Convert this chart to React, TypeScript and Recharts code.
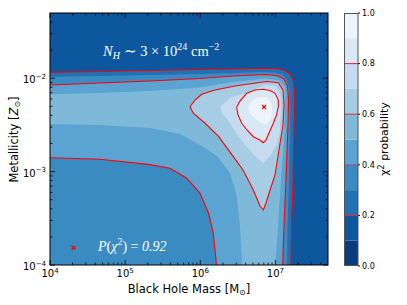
import React from "react";
import {
  ScatterChart,
  Scatter,
  XAxis,
  YAxis,
  CartesianGrid,
  BarChart,
  Bar,
  ReferenceLine,
} from "recharts";

// all positions are log10(M / Msun) and log10(Z / Zsun)
const xDomain = [4, Math.log10(5e7)];
const yDomain = [-4, Math.log10(5e-2)];
const xMajor = [4, 5, 6, 7];
const yMajor = [-4, -3, -2];

// filled contour levels of the chi^2 probability and their colours (Blues_r)
const levels = [0, 0.1, 0.2, 0.3, 0.4, 0.5, 0.6, 0.7, 0.8, 0.9, 1.0];
const bandColors = [
  "#083d7f", "#0d579f", "#2171b5", "#3b8bc3", "#5ba3d0",
  "#7fb9da", "#a6cde4", "#c6dbef", "#d9e8f5", "#edf5fc",
];
const lineLevels = [0.2, 0.4, 0.6, 0.8];
const cbLineColors = ["#e8242c", "#a8476a", "#e8242c", "#e8242c"];
const cbTicks = [0, 0.2, 0.4, 0.6, 0.8, 1.0];

// contour paths [log M, log Z]
const c02 = [
  [4.0, -1.936], [4.665, -1.928], [5.331, -1.917], [5.996, -1.906], [6.435, -1.901],
  [6.794, -1.893], [7.021, -1.895], [7.127, -1.917], [7.194, -1.954], [7.234, -2.019],
  [7.25, -2.126], [7.25, -2.34], [7.243, -2.661], [7.234, -3.09], [7.214, -3.572], [7.207, -4.0],
];
const c03 = [
  [4.0, -1.983], [4.665, -1.976], [5.331, -1.965], [5.996, -1.954], [6.435, -1.944],
  [6.821, -1.933], [7.007, -1.938], [7.1, -1.965], [7.154, -2.019], [7.185, -2.126],
  [7.194, -2.501], [7.18, -3.09], [7.16, -3.572], [7.154, -4.0],
];
const c04a = [
  [4.0, -2.072], [4.665, -2.051], [5.331, -2.029], [5.996, -2.003], [6.435, -1.976],
  [6.888, -1.96], [7.034, -1.976], [7.114, -2.008], [7.16, -2.083], [7.174, -2.233],
  [7.167, -2.501], [7.14, -3.09], [7.114, -3.572], [7.096, -4.0],
];
const c04b = [
  [4.0, -2.851], [4.665, -2.868], [5.331, -2.925], [5.597, -2.964], [5.819, -3.071],
  [5.996, -3.232], [6.11, -3.446], [6.173, -3.66], [6.215, -4.0],
];
const c05a = [
  [4.0, -2.172], [4.665, -2.158], [5.331, -2.136], [5.996, -2.099], [6.435, -2.04],
  [6.861, -2.003], [7.047, -2.024], [7.127, -2.094], [7.134, -2.233], [7.114, -2.661],
  [7.074, -3.09], [7.034, -3.572], [7.0, -4.0],
];
const c05b = [
  [4.0, -2.49], [4.665, -2.501], [5.331, -2.533], [5.73, -2.597], [5.996, -2.715],
  [6.222, -2.833], [6.395, -3.015], [6.488, -3.272], [6.528, -3.593], [6.555, -4.0],
];
const c06 = [
  [5.863, -2.305], [5.929, -2.233], [6.019, -2.172], [6.196, -2.126], [6.462, -2.083],
  [6.884, -2.035], [7.038, -2.048], [7.1, -2.126], [7.114, -2.286], [7.1, -2.501],
  [7.047, -2.768], [6.994, -3.036], [6.928, -3.197], [6.874, -3.336], [6.838, -3.411],
  [6.794, -3.368], [6.705, -3.197], [6.568, -2.983], [6.439, -2.84], [6.24, -2.619],
  [6.063, -2.482], [5.907, -2.375],
];
const c07 = [
  [6.262, -2.305], [6.395, -2.211], [6.661, -2.144], [6.861, -2.072], [7.007, -2.083],
  [7.067, -2.179], [7.074, -2.34], [7.054, -2.608], [7.017, -2.715], [6.928, -2.833],
  [6.838, -2.911], [6.728, -2.833], [6.617, -2.733], [6.502, -2.618], [6.395, -2.482],
  [6.289, -2.372],
];
const c08 = [
  [6.484, -2.311], [6.528, -2.244], [6.617, -2.161], [6.728, -2.126], [6.838, -2.118],
  [6.928, -2.131], [6.994, -2.161], [7.038, -2.233], [7.038, -2.305], [7.014, -2.393],
  [6.971, -2.482], [6.914, -2.586], [6.874, -2.661], [6.838, -2.69], [6.794, -2.661],
  [6.705, -2.626], [6.621, -2.554], [6.551, -2.482], [6.502, -2.393],
];
const c09 = [
  [6.639, -2.305], [6.688, -2.244], [6.754, -2.206], [6.884, -2.197], [6.95, -2.268],
  [6.95, -2.412], [6.901, -2.479], [6.861, -2.501], [6.75, -2.447], [6.661, -2.375],
];

const bestFit = [[6.848, -2.308]];
const legendMark = [[4.313, -3.815]];

const FONT = "DejaVu Sans";
const RED = "#ff0000";

const pts = (arr: number[][]) => arr.map(([x, y]) => ({ x, y }));
const closed = (arr: number[][]) => [...arr, arr[0]];

const fills = [
  { level: 0.2, path: [...c02, [xDomain[0], yDomain[0]]] },
  { level: 0.3, path: [...c03, [xDomain[0], yDomain[0]]] },
  { level: 0.4, path: [...c04a, ...[...c04b].reverse()] },
  { level: 0.5, path: [...c05a, ...[...c05b].reverse()] },
  { level: 0.6, path: c06 },
  { level: 0.7, path: c07 },
  { level: 0.8, path: c08 },
  { level: 0.9, path: c09 },
];
const redLines = [c02, c04a, c04b, closed(c06), closed(c08)];

const minorTicks = (lo: number, hi: number) => {
  const out: number[] = [];
  for (let d = Math.floor(lo); d < hi; d++) {
    for (let k = 2; k <= 9; k++) {
      const v = d + Math.log10(k);
      if (v > lo && v < hi - 0.002) out.push(v);
    }
  }
  return out;
};
const xTicks = [...xMajor, ...minorTicks(xDomain[0], xDomain[1])];
const yTicks = [...yMajor, ...minorTicks(yDomain[0], yDomain[1])];

const isMajor = (v: number) => Math.abs(v - Math.round(v)) < 1e-6;
const expText = (v: number) => String(Math.round(v)).replace("-", "\u2212");

const makeTick = (side: "bottom" | "top" | "left" | "right") => (props: any) => {
  const { x, y, payload } = props;
  const v = payload.value;
  const major = isMajor(v);
  const len = major ? 5 : 2.5;
  let line;
  if (side === "bottom") line = <line x1={x} x2={x} y1={y} y2={y - len} />;
  else if (side === "top") line = <line x1={x} x2={x} y1={y} y2={y + len} />;
  else if (side === "left") line = <line x1={x} x2={x + len} y1={y} y2={y} />;
  else line = <line x1={x} x2={x - len} y1={y} y2={y} />;
  return (
    <g>
      <g stroke="#000" strokeWidth={0.8}>{line}</g>
      {major && side === "bottom" && (
        <text x={x} y={y + 12} textAnchor="middle" fontSize={10} fontFamily={FONT} fill="#000">
          10<tspan dy={-4.5} fontSize={7}>{expText(v)}</tspan>
        </text>
      )}
      {major && side === "left" && (
        <text x={x - 4} y={y + 5} textAnchor="end" fontSize={10} fontFamily={FONT} fill="#000">
          10<tspan dy={-4.5} fontSize={7}>{expText(v)}</tspan>
        </text>
      )}
    </g>
  );
};

const NoShape = () => <g />;
const Cross = (props: any) => {
  const { cx, cy } = props;
  return (
    <g stroke={RED} strokeWidth={1.2}>
      <line x1={cx - 2} y1={cy - 2} x2={cx + 2} y2={cy + 2} />
      <line x1={cx - 2} y1={cy + 2} x2={cx + 2} y2={cy - 2} />
    </g>
  );
};

const cbRow: Record<string, number | string> = { name: "p" };
levels.slice(1).forEach((v, i) => {
  cbRow[`b${i}`] = v - levels[i];
});

export default function App() {
  return (
    <div style={{ position: "relative", width: 407, height: 305, background: "#fff", fontFamily: FONT }}>
      <style>{"body{margin:0}"}</style>
      <ScatterChart width={407} height={305} margin={{ top: 12, right: 78, bottom: 39, left: 49 }}>
        <CartesianGrid fill={bandColors[1]} stroke="none" />
        <XAxis
          dataKey="x" type="number" domain={xDomain} allowDataOverflow ticks={xTicks} interval={0}
          height={1} tickSize={0} tickMargin={0} tickLine={false} axisLine={false}
          tick={makeTick("bottom")}
        />
        <XAxis
          xAxisId="top" orientation="top" dataKey="x" type="number" domain={xDomain} allowDataOverflow
          ticks={xTicks} interval={0} height={1} tickSize={0} tickMargin={0} tickLine={false}
          axisLine={false} tick={makeTick("top")}
        />
        <YAxis
          dataKey="y" type="number" domain={yDomain} allowDataOverflow ticks={yTicks} interval={0}
          width={1} tickSize={0} tickMargin={0} tickLine={false} axisLine={false}
          tick={makeTick("left")}
        />
        <YAxis
          yAxisId="right" orientation="right" dataKey="y" type="number" domain={yDomain} allowDataOverflow
          ticks={yTicks} interval={0} width={1} tickSize={0} tickMargin={0} tickLine={false}
          axisLine={false} tick={makeTick("right")}
        />
        {fills.map((f) => (
          <Scatter
            key={`fill-${f.level}`}
            data={pts(f.path)}
            shape={NoShape}
            line={{ fill: bandColors[Math.round(f.level * 10)], stroke: "none" }}
            lineType="joint"
            lineJointType="linear"
            isAnimationActive={false}
          />
        ))}
        {redLines.map((l, i) => (
          <Scatter
            key={`line-${i}`}
            data={pts(l)}
            shape={NoShape}
            line={{ stroke: RED, strokeWidth: 1.1, fill: "none" }}
            lineType="joint"
            lineJointType="linear"
            isAnimationActive={false}
          />
        ))}
        <Scatter data={pts(bestFit)} shape={Cross} isAnimationActive={false} />
        <Scatter data={pts(legendMark)} shape={Cross} isAnimationActive={false} />
      </ScatterChart>

      <div style={{ position: "absolute", left: 344, top: 0 }}>
        <BarChart
          width={63} height={305} data={[cbRow]} barCategoryGap={0} barGap={0}
          margin={{ top: 13, right: 48, bottom: 39, left: 0 }}
        >
          <XAxis dataKey="name" hide />
          <YAxis
            orientation="right" type="number" domain={[0, 1]} ticks={cbTicks} interval={0} width={1}
            tickSize={2} tickMargin={2} axisLine={false} tickLine={{ stroke: "#000" }}
            tickFormatter={(v: number) => v.toFixed(1)}
            tick={{ fontSize: 8, fill: "#000", fontFamily: FONT }}
          />
          {bandColors.map((c, i) => (
            <Bar key={`b${i}`} dataKey={`b${i}`} stackId="cb" fill={c} isAnimationActive={false} />
          ))}
          {lineLevels.map((v, i) => (
            <ReferenceLine key={v} y={v} stroke={cbLineColors[i]} strokeWidth={1} />
          ))}
        </BarChart>
      </div>

      <svg
        width={407} height={305}
        style={{ position: "absolute", left: 0, top: 0, pointerEvents: "none" }}
        fontFamily={FONT}
      >
        <rect x={50} y={13} width={278} height={252} fill="none" stroke="#000" strokeWidth={1} />
        <rect x={344.5} y={13.5} width={13.5} height={252} fill="none" stroke="#555" strokeWidth={1} />
        <text x={103} y={56} fill="#fff" fontFamily="Liberation Serif" fontSize={14.5}>
          <tspan fontStyle="italic">N</tspan>
          <tspan fontStyle="italic" fontSize={10} dy={3}>H</tspan>
          <tspan dy={-3}> ∼ 3 × 10</tspan>
          <tspan fontSize={10} dy={-6}>24</tspan>
          <tspan dy={6}> cm</tspan>
          <tspan fontSize={10} dy={-6}>−2</tspan>
        </text>
        <text x={98} y={251} fill="#fff" fontFamily="Liberation Serif" fontSize={14}>
          <tspan fontStyle="italic">P</tspan>
          <tspan>(</tspan>
          <tspan fontStyle="italic">χ</tspan>
          <tspan fontSize={10} dy={-6}>2</tspan>
          <tspan dy={6}>) = </tspan>
          <tspan fontStyle="italic">0.92</tspan>
        </text>
        <text x={189} y={292.5} textAnchor="middle" fontSize={11.5} fill="#000">
          Black Hole Mass [M<tspan fontSize={8} dy={2.5}>⊙</tspan>
          <tspan dy={-2.5}>]</tspan>
        </text>
        <text transform="translate(17.5,139.5) rotate(-90)" textAnchor="middle" fontSize={11.5} fill="#000">
          Metallicity [<tspan fontStyle="italic">Z</tspan>
          <tspan fontSize={8} dy={2.5}>⊙</tspan>
          <tspan dy={-2.5}>]</tspan>
        </text>
        <text transform="translate(388,139) rotate(-90)" textAnchor="middle" fontSize={11} fill="#000">
          χ<tspan fontSize={8} dy={-4}>2</tspan>
          <tspan dy={4}> probability</tspan>
        </text>
      </svg>
    </div>
  );
}
